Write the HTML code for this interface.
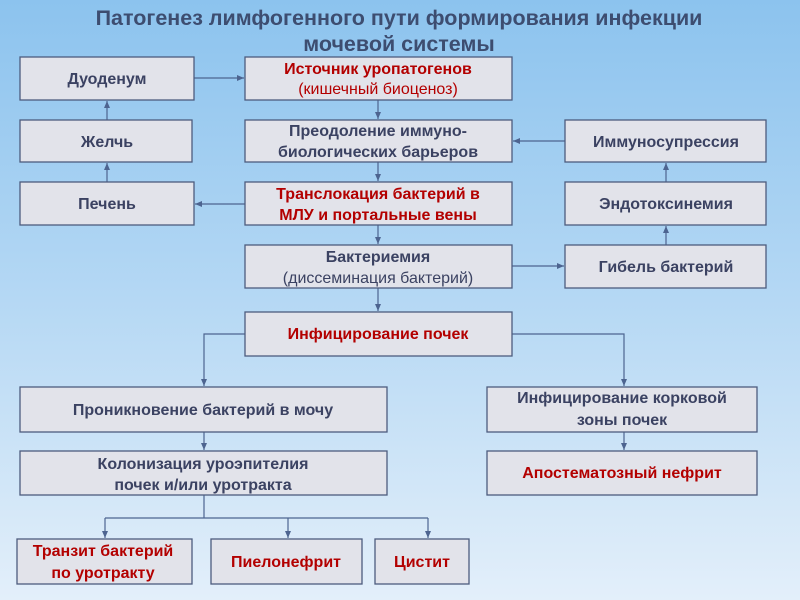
<!DOCTYPE html>
<html><head><meta charset="utf-8"><style>
html,body{margin:0;padding:0;width:800px;height:600px;overflow:hidden}
svg{display:block}
text{font-family:"Liberation Sans",sans-serif;font-weight:bold;font-size:16px;fill:#3b4262;text-anchor:middle}
.r{fill:#b30000}
.n{font-weight:normal}
.t{font-size:21.5px;fill:#3d4d70}
rect{fill:#e2e3ea;stroke:#4d5c7e;stroke-width:1.3}
.l{stroke:#4d6490;stroke-width:1.2;fill:none}
</style></head><body>
<svg width="800" height="600" viewBox="0 0 800 600">
<defs>
<linearGradient id="bg" x1="0" y1="0" x2="0" y2="1">
<stop offset="0" stop-color="#8cc3ee"/><stop offset="0.5" stop-color="#b5d8f4"/><stop offset="1" stop-color="#e3effa"/>
</linearGradient>
<marker id="a" markerWidth="8" markerHeight="8" refX="7" refY="4" orient="auto" markerUnits="userSpaceOnUse">
<path d="M0,1 L7,4 L0,7 z" fill="#4d6490"/></marker>
</defs>
<rect x="0" y="0" width="800" height="600" style="fill:url(#bg);stroke:none"/>
<text class="t" x="399" y="25">Патогенез лимфогенного пути формирования инфекции</text>
<text class="t" x="399" y="51">мочевой системы</text>

<path class="l" marker-end="url(#a)" d="M194,78 H244"/>
<path class="l" marker-end="url(#a)" d="M378,100 V119"/>
<path class="l" marker-end="url(#a)" d="M378,162 V181"/>
<path class="l" marker-end="url(#a)" d="M378,225 V244"/>
<path class="l" marker-end="url(#a)" d="M378,288 V311"/>
<path class="l" marker-end="url(#a)" d="M565,141 H513"/>
<path class="l" marker-end="url(#a)" d="M245,204 H195"/>
<path class="l" marker-end="url(#a)" d="M107,182 V163"/>
<path class="l" marker-end="url(#a)" d="M107,120 V101"/>
<path class="l" marker-end="url(#a)" d="M512,266 H564"/>
<path class="l" marker-end="url(#a)" d="M666,245 V226"/>
<path class="l" marker-end="url(#a)" d="M666,182 V163"/>
<path class="l" marker-end="url(#a)" d="M245,334 H204 V386"/>
<path class="l" marker-end="url(#a)" d="M512,334 H624 V386"/>
<path class="l" marker-end="url(#a)" d="M624,432 V450"/>
<path class="l" marker-end="url(#a)" d="M204,432 V450"/>
<path class="l" d="M204,495 V518 M105,518 H428"/>
<path class="l" marker-end="url(#a)" d="M105,518 V538"/>
<path class="l" marker-end="url(#a)" d="M288,518 V538"/>
<path class="l" marker-end="url(#a)" d="M428,518 V538"/>

<rect x="20" y="57" width="174" height="43"/><text x="107" y="84">Дуоденум</text>
<rect x="245" y="57" width="267" height="43"/>
<text class="r" x="378" y="74">Источник уропатогенов</text>
<text class="r n" x="378" y="94">(кишечный биоценоз)</text>
<rect x="20" y="120" width="172" height="42"/><text x="107" y="147">Желчь</text>
<rect x="245" y="120" width="267" height="42"/>
<text x="378" y="136">Преодоление иммуно-</text>
<text x="378" y="157">биологических барьеров</text>
<rect x="565" y="120" width="201" height="42"/><text x="666" y="147">Иммуносупрессия</text>
<rect x="20" y="182" width="174" height="43"/><text x="107" y="209">Печень</text>
<rect x="245" y="182" width="267" height="43"/>
<text class="r" x="378" y="199">Транслокация бактерий в</text>
<text class="r" x="378" y="220">МЛУ и портальные вены</text>
<rect x="565" y="182" width="201" height="43"/><text x="666" y="209">Эндотоксинемия</text>
<rect x="245" y="245" width="267" height="43"/>
<text x="378" y="262">Бактериемия</text>
<text class="n" x="378" y="283">(диссеминация бактерий)</text>
<rect x="565" y="245" width="201" height="43"/><text x="666" y="272">Гибель бактерий</text>
<rect x="245" y="312" width="267" height="44"/><text class="r" x="378" y="339">Инфицирование  почек</text>
<rect x="20" y="387" width="367" height="45"/><text x="203" y="415">Проникновение бактерий в мочу</text>
<rect x="487" y="387" width="270" height="45"/>
<text x="622" y="403">Инфицирование корковой</text>
<text x="622" y="425">зоны почек</text>
<rect x="20" y="451" width="367" height="44"/>
<text x="203" y="469">Колонизация уроэпителия</text>
<text x="203" y="490">почек и/или уротракта</text>
<rect x="487" y="451" width="270" height="44"/><text class="r" x="622" y="478">Апостематозный нефрит</text>
<rect x="17" y="539" width="175" height="45"/>
<text class="r" x="103" y="556">Транзит бактерий</text>
<text class="r" x="103" y="578">по уротракту</text>
<rect x="211" y="539" width="151" height="45"/><text class="r" x="286" y="567">Пиелонефрит</text>
<rect x="375" y="539" width="94" height="45"/><text class="r" x="422" y="567">Цистит</text>
</svg>
</body></html>
